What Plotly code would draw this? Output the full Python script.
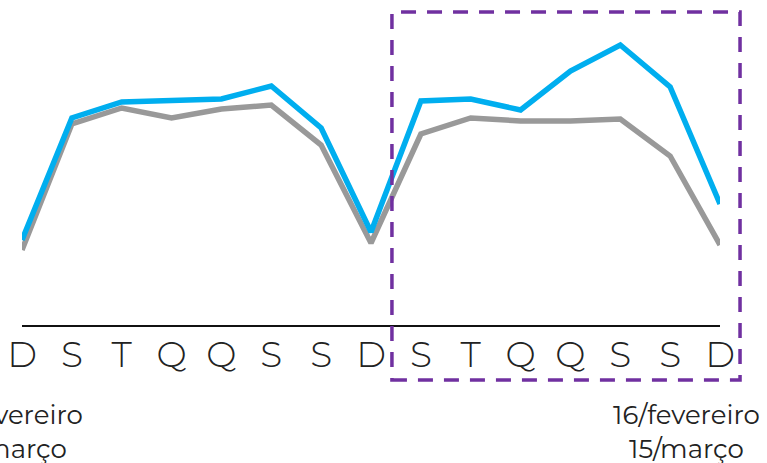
import plotly.graph_objects as go

days = ["D", "S", "T", "Q", "Q", "S", "S", "D", "S", "T", "Q", "Q", "S", "S", "D"]
blue_values = [85, 207, 223, 225, 226, 239, 197, 93, 224, 226, 215, 254, 280, 238, 121]
gray_values = [75, 201, 217, 207, 216, 220, 180, 82, 191, 207, 204, 204, 206, 169, 80]
period_label = "16/fevereiro<br>15/março"

x = list(range(len(days)))

fig = go.Figure()
fig.add_trace(go.Scatter(x=x, y=gray_values, mode="lines",
                         line=dict(color="#999999", width=5.5), showlegend=False,
                         hoverinfo="skip"))
fig.add_trace(go.Scatter(x=x, y=blue_values, mode="lines",
                         line=dict(color="#00AEEF", width=5.5), showlegend=False,
                         hoverinfo="skip"))

font_family = "Montserrat, Inter, Lato, sans-serif"

fig.update_layout(
    width=767, height=463,
    margin=dict(l=22, r=47, t=0, b=138),
    paper_bgcolor="white", plot_bgcolor="white",
    xaxis=dict(range=[0, len(days) - 1], tickmode="array", tickvals=x, ticktext=days,
               showgrid=False, zeroline=False, showline=True, linecolor="#111111",
               linewidth=2, ticks="", ticklabelstandoff=-3, ticklabeloverflow="allow",
               tickfont=dict(family=font_family, size=36, color="#222222", weight=300)),
    yaxis=dict(range=[0, 325], visible=False, showgrid=False, zeroline=False),
    shapes=[dict(type="rect", xref="paper", yref="paper",
                 x0=0.530, x1=1.0287, y0=-0.169, y1=0.963,
                 line=dict(color="#7030A0", width=3.5, dash="15px,11px"),
                 fillcolor="rgba(0,0,0,0)", layer="above")],
    annotations=[
        dict(text=period_label, xref="paper", yref="paper", x=-0.0172, y=-0.2215,
             xanchor="center", yanchor="top", showarrow=False, align="center",
             font=dict(family=font_family, size=26, color="#222222", weight=400)),
        dict(text=period_label, xref="paper", yref="paper", x=0.9527, y=-0.2215,
             xanchor="center", yanchor="top", showarrow=False, align="center",
             font=dict(family=font_family, size=26, color="#222222", weight=400)),
    ],
)

fig.write_html("out.html",
               config={"displayModeBar": False, "staticPlot": True},
               post_script="document.body.style.margin='0';document.body.style.overflow='hidden';")
